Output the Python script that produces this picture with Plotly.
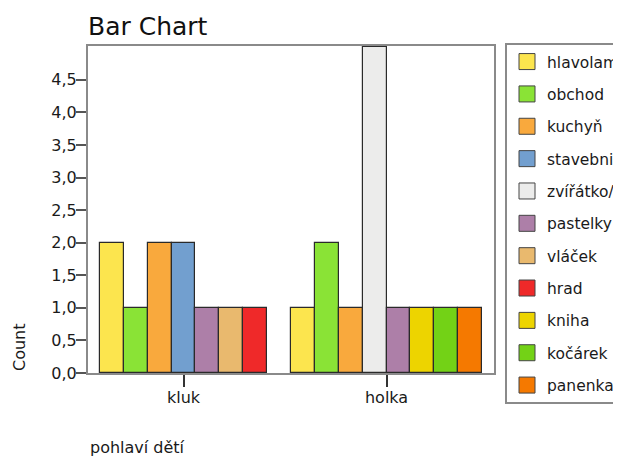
import plotly.graph_objects as go

# ---- data ----
groups = ["kluk", "holka"]
series = ["hlavolam", "obchod", "kuchyň", "stavebnice", "zvířátko/plyšák",
          "pastelky", "vláček", "hrad", "kniha", "kočárek", "panenka"]
counts_kluk = [2, 1, 2, 2, 0, 1, 1, 1, 0, 0, 0]
counts_holka = [1, 2, 1, 0, 5, 1, 0, 0, 1, 1, 1]
colors = ["#FCE54E", "#8AE336", "#F9A93D", "#729FCF", "#ECECEB",
          "#AD7FA8", "#E9B96E", "#EF2929", "#EDD400", "#73D216", "#F57900"]
y_ticks = [0, 0.5, 1, 1.5, 2, 2.5, 3, 3.5, 4, 4.5]

counts = [counts_kluk, counts_holka]
FONT = "DejaVu Sans"
FS = 16

# compact clustered layout: only non-empty bars, one empty slot between groups
slot = 0
bars = {s: ([], []) for s in series}
group_centers = []
for gi, g in enumerate(groups):
    start = slot
    for si, s in enumerate(series):
        v = counts[gi][si]
        if v > 0:
            bars[s][0].append(slot)
            bars[s][1].append(v)
            slot += 1
    group_centers.append((start + slot - 1) / 2)
    slot += 1
x_range = [-1, slot - 1]

fig = go.Figure()
for si, s in enumerate(series):
    xs, ys = bars[s]
    fig.add_trace(go.Bar(
        x=xs, y=ys, width=1, name=s, legendgroup=s, showlegend=False,
        marker=dict(color=colors[si], line=dict(color="#2a2a2a", width=1.2)),
    ))
for si, s in enumerate(series):
    fig.add_trace(go.Scatter(
        x=[None], y=[None], mode="markers", name=s, legendgroup=s,
        marker=dict(symbol="square", size=16, color=colors[si],
                    line=dict(color="#444444", width=1)),
    ))

W, H = 613, 449          # page body has an 8px margin
L, T, PW, PH = 80, 38, 406, 327

fig.update_layout(
    width=W, height=H,
    margin=dict(l=L, r=W - L - PW, t=T, b=H - T - PH, autoexpand=False),
    paper_bgcolor="white", plot_bgcolor="white",
    separators=",.",
    font=dict(family=FONT, size=FS, color="#1a1a1a"),
    title=dict(text="Bar Chart", x=L / W, xanchor="left", xref="container",
               y=1 - 18 / H, yanchor="middle", yref="container",
               pad=dict(l=0, r=0, t=0, b=0),
               font=dict(family=FONT, size=25, color="#111111")),
    barmode="overlay",
    bargap=0,
    showlegend=True,
    legend=dict(x=(497 - L) / PW, xanchor="left", y=1 + 3 / PH, yanchor="top",
                bordercolor="#8a8a8a", borderwidth=2, bgcolor="white",
                font=dict(family=FONT, size=15.5, color="#1a1a1a"),
                tracegroupgap=9.2, itemclick=False, maxheight=1),
    xaxis=dict(range=x_range, tickmode="array", tickvals=group_centers,
               ticktext=groups, ticks="outside", ticklen=12, tickwidth=1.5,
               tickcolor="#333333", showgrid=False, zeroline=False,
               ticklabelstandoff=-3,
               showline=True, mirror=True, linecolor="#8a8a8a", linewidth=2),
    yaxis=dict(range=[0, 5.02], tickmode="array", tickvals=y_ticks,
               tickformat=".1f", ticks="outside", ticklen=10, tickwidth=1.5,
               tickcolor="#555555", showgrid=False, zeroline=False,
               ticklabelstandoff=-4,
               showline=True, mirror=True, linecolor="#8a8a8a", linewidth=2),
    annotations=[
        dict(text="Count", textangle=-90, xref="paper", yref="paper",
             x=(11 - L) / PW, y=0, xanchor="center", yanchor="bottom",
             showarrow=False, font=dict(family=FONT, size=FS, color="#1a1a1a")),
        dict(text="pohlaví dětí", xref="paper", yref="paper",
             x=0, y=(PH + T - 439) / PH, xanchor="left", yanchor="middle",
             showarrow=False, font=dict(family=FONT, size=FS, color="#1a1a1a")),
    ],
)

fig.write_html("out.html")
